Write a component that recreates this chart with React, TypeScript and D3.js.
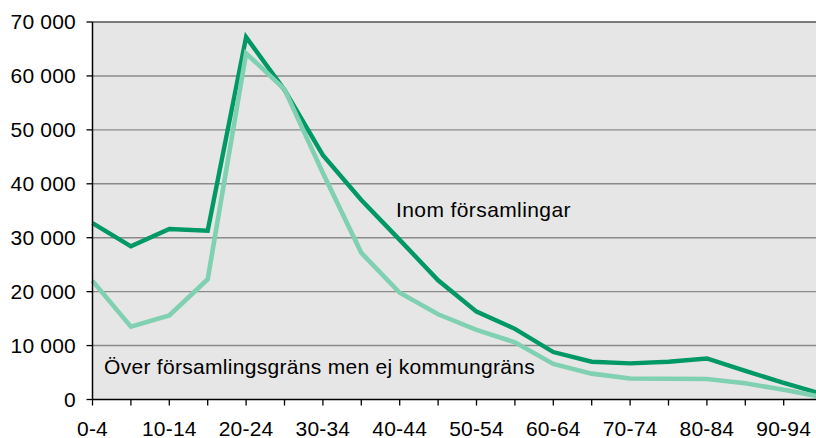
import React from "react";
import * as d3 from "d3";

const categories = ["0-4","5-9","10-14","15-19","20-24","25-29","30-34","35-39","40-44","45-49","50-54","55-59","60-64","65-69","70-74","75-79","80-84","85-89","90-94","95-"];
const inom = [32700, 28400, 31600, 31300, 67200, 57400, 45300, 37000, 29600, 22100, 16300, 13100, 8800, 7000, 6700, 7000, 7600, 5300, 3100, 1000];
const over = [22000, 13500, 15600, 22300, 64200, 57500, 42000, 27200, 19800, 15800, 12900, 10600, 6600, 4800, 3900, 3850, 3800, 3000, 1800, 450];
const yTicks = [0, 10000, 20000, 30000, 40000, 50000, 60000, 70000];
const labelInom = "Inom församlingar";
const labelOver = "Över församlingsgräns men ej kommungräns";

const W = 816, H = 438;
const left = 92.5, top = 22, bottom = 399.5;
const step = 38.4;

export default function App() {
  const x = d3.scalePoint<string>().domain(categories).range([left, left + step * (categories.length - 1)]);
  const y = d3.scaleLinear().domain([0, 70000]).range([bottom, top]);
  const line = d3.line<number>().x((_, i) => x(categories[i])!).y(d => y(d));
  const fmt = (v: number) => d3.format(",")(v).replace(/,/g, " ");
  const font = "'Liberation Sans', Arial, sans-serif";
  const fs = 21;
  return (
    <svg width={W} height={H} style={{ position: "absolute", left: 0, top: 0, overflow: "hidden" }} fontFamily={font}>
      <rect x={left} y={top} width={W - left + 20} height={bottom - top} fill="#e6e6e6" />
      {yTicks.filter(t => t > 0).map(t => (
        <line key={t} x1={left} x2={W + 20} y1={y(t)} y2={y(t)} stroke={t === 70000 ? "#555" : "#8a8a8a"} strokeWidth={t === 70000 ? 1.6 : 1.4} />
      ))}
      <path d={line(inom) || ""} fill="none" stroke="#009966" strokeWidth={4.4} strokeLinejoin="miter" />
      <path d={line(over) || ""} fill="none" stroke="#80d0b2" strokeWidth={4.6} strokeLinejoin="miter" />
      <line x1={left} x2={left} y1={top} y2={bottom} stroke="#000" strokeWidth={1.5} />
      <line x1={left} x2={W + 20} y1={bottom} y2={bottom} stroke="#000" strokeWidth={1.5} />
      {yTicks.map(t => (
        <g key={t}>
          <line x1={left - 6} x2={left} y1={y(t)} y2={y(t)} stroke="#000" strokeWidth={1.3} />
          <text x={76} y={y(t)} dy="0.35em" textAnchor="end" fontSize={fs} letterSpacing={0.2} fill="#000">{fmt(t)}</text>
        </g>
      ))}
      {categories.map((c, i) => (
        <g key={c}>
          <line x1={x(c)!} x2={x(c)!} y1={bottom} y2={bottom + 6} stroke="#000" strokeWidth={1.3} />
          {i % 2 === 0 && (
            <text x={x(c)!} y={435.5} textAnchor="middle" fontSize={fs} letterSpacing={0.2} fill="#000">{c}</text>
          )}
        </g>
      ))}
      <text x={396} y={217.3} fontSize={fs} letterSpacing={0.4} fill="#000">{labelInom}</text>
      <text x={104} y={374} fontSize={fs} letterSpacing={0.3} fill="#000">{labelOver}</text>
    </svg>
  );
}
